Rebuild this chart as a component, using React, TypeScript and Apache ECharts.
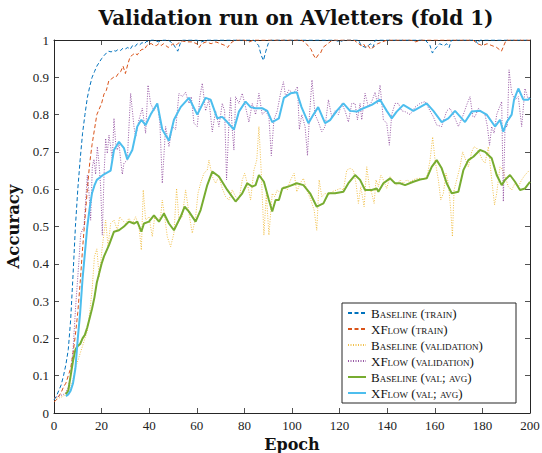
import React, { useEffect, useRef } from "react";
import * as echarts from "echarts";

const seriesNames = [
  "Baseline (train)",
  "XFlow (train)",
  "Baseline (validation)",
  "XFlow (validation)",
  "Baseline (val; avg)",
  "XFlow (val; avg)",
];

const bTrainX = [0,1,2,3,4,5,6,7,8,9,10,11,12,13,14,15,16,17,18,19,20,21,22,23,24,25,26,27,28,29,30,31,32,33,34,35,36,37,38,39,40,41,42,44,46,48,50,51,52,53,54,60,62,64,84,86,87,88,89,90,91,100,118,120,122,128,129,131,133,134,135,156,158,159,160,162,164,165,166,167,177,178,179,200];
const bTrainY = [0.035,0.045,0.06,0.075,0.1,0.13,0.17,0.25,0.37,0.5,0.6,0.68,0.75,0.8,0.845,0.875,0.9,0.915,0.93,0.94,0.95,0.958,0.965,0.97,0.968,0.972,0.97,0.975,0.972,0.978,0.976,0.98,0.975,0.985,0.982,0.99,0.987,0.993,0.99,0.997,0.995,1,1,0.995,1,1,0.99,0.98,0.97,0.99,1,1,0.995,1,1,0.985,0.96,0.945,0.97,0.99,1,1,1,0.995,1,1,0.985,0.98,0.99,0.98,1,1,0.985,0.965,0.975,0.99,0.985,0.99,0.98,1,1,0.99,1,1];

const xTrainX = [0,1,2,3,4,5,6,7,8,9,10,11,12,13,14,15,16,17,18,19,20,21,22,23,24,25,26,27,28,29,30,31,32,33,34,35,36,37,38,39,40,41,42,43,44,45,46,47,48,49,50,51,52,53,54,56,58,60,61,62,64,66,68,70,72,73,74,76,80,82,84,104,106,108,109,110,111,112,113,115,117,126,128,129,130,131,132,133,134,136,138,140,150,152,154,176,178,180,182,184,186,188,189,190,200];
const xTrainY = [0.03,0.035,0.045,0.055,0.07,0.08,0.1,0.12,0.16,0.21,0.27,0.35,0.44,0.52,0.6,0.67,0.72,0.76,0.8,0.815,0.83,0.855,0.865,0.89,0.895,0.9,0.9,0.91,0.915,0.93,0.91,0.935,0.955,0.96,0.965,0.96,0.97,0.975,0.975,0.985,0.99,0.99,0.985,0.985,0.99,0.985,0.99,0.985,0.98,0.985,0.99,0.985,0.99,0.995,0.997,0.995,0.995,0.99,0.98,0.99,0.995,0.99,0.995,0.99,0.985,0.98,0.99,1,1,0.995,1,1,0.99,0.975,0.96,0.95,0.96,0.965,0.98,0.99,1,1,0.99,0.985,0.99,0.98,0.985,0.975,0.98,0.99,0.995,1,1,0.995,1,1,0.99,0.985,0.99,0.985,0.98,0.97,0.985,1,1];

const bValX = [0,2,4,6,7,8,9,10,11,12,13,14,15,16,17,18,19,20.3,21.7,22.7,23.8,25.2,26.6,27.6,28.7,30.1,31.5,32.9,34.3,35.7,36.7,37.5,38.5,39.9,41.3,42.3,43.4,44.8,45.5,46.5,47.6,49,50.4,51.5,52.5,53.9,55.3,56.7,58.1,59.5,60.5,61.6,63,64.4,65.1,66.5,67.9,69.3,70.7,72.1,73.5,74.9,76.3,77.7,79.1,80.1,81.2,82.6,84,85.2,86.1,87.1,88.2,89.2,90.3,91.7,92.7,93.8,95.2,96.6,98,99.4,100.9,102,103.4,104.8,106.2,107.9,109.3,110.4,111.4,112.5,113.9,115.3,116.7,118.8,120.2,121.6,123,124.4,125.8,126.9,127.9,128.9,130.3,131.4,132.5,133.5,134.5,135.3,136.3,137.3,138.4,139.8,141.2,142.6,144,145.4,146.8,148.2,149.6,151,152.4,153.8,155.2,156.9,158,159.1,160.1,161.5,162.5,163.6,164.7,165.7,166.7,167.4,168.1,169.2,170.6,171.7,173,174.1,175.5,176.5,177.6,178.8,180,181.1,182.5,183.5,184.4,185.1,186,187.4,188.6,189.5,190.9,192.3,193.7,195.1,196.5,197.9,199.8];
const bValY = [0.04,0.04,0.045,0.06,0.07,0.09,0.12,0.14,0.16,0.18,0.2,0.22,0.27,0.33,0.42,0.44,0.365,0.446,0.517,0.446,0.508,0.517,0.49,0.526,0.517,0.508,0.522,0.508,0.526,0.5,0.437,0.598,0.517,0.526,0.473,0.526,0.517,0.526,0.571,0.526,0.473,0.446,0.482,0.602,0.517,0.526,0.598,0.535,0.482,0.526,0.589,0.616,0.643,0.651,0.678,0.634,0.616,0.634,0.602,0.58,0.571,0.598,0.58,0.571,0.625,0.643,0.616,0.571,0.651,0.678,0.768,0.643,0.477,0.589,0.477,0.589,0.58,0.598,0.589,0.607,0.598,0.625,0.643,0.593,0.616,0.629,0.598,0.571,0.544,0.49,0.625,0.58,0.589,0.584,0.593,0.598,0.602,0.598,0.651,0.656,0.651,0.616,0.562,0.607,0.553,0.66,0.607,0.589,0.562,0.625,0.607,0.638,0.625,0.602,0.634,0.62,0.611,0.625,0.616,0.625,0.62,0.625,0.629,0.629,0.625,0.638,0.678,0.74,0.678,0.625,0.571,0.589,0.643,0.616,0.544,0.473,0.598,0.625,0.66,0.7,0.678,0.66,0.7,0.714,0.71,0.696,0.678,0.67,0.714,0.651,0.598,0.558,0.589,0.66,0.651,0.634,0.607,0.598,0.616,0.607,0.625,0.638,0.651];

const xValX = [0,2,4,5,6,7,8,9.1,10.5,11.2,12.6,14,14.7,15.4,16.1,16.8,17.5,18.2,18.9,19.6,20.3,21,21.7,22.4,23.1,23.8,24.5,25.2,25.9,26.6,27.3,28,28.7,29.4,30.8,32.2,33.6,34.3,35.7,37.1,38.5,39.5,40.6,42,43.4,44.5,45.5,46.9,48.3,49.7,51.1,52.5,53.9,55.3,56.7,57.7,58.8,60.2,61.3,62.3,63.7,65.1,66.5,67.9,69.3,70.7,71.7,72.5,73.5,74.2,74.9,75.6,76.3,77.7,79.1,80.5,81.9,83.3,84.7,86.1,87.5,88.9,90.3,91.3,92.4,93.8,95.2,96.4,97.3,98.7,100.6,102.3,103.1,104.1,105.5,106.5,107.3,108.4,109.7,111.1,112.5,113.9,115.3,116.7,118.1,119.5,120.9,122.3,123.7,125.1,126.5,127.5,128.6,129.3,130.7,132.1,133.5,134.9,135.9,137,138.4,139.8,140.9,141.9,143.3,144.7,146.1,147.5,149.6,151.7,153.8,155.9,158,159.4,160.8,162.9,165,166.4,168.5,169.9,172,173.4,174.8,176,176.9,178.3,179.7,181.1,182.1,183,183.9,184.9,186,187.2,188.1,188.8,189.5,190.5,191.2,192.3,193.7,195.1,196.5,197.9,199.3,200];
const xValY = [0.04,0.045,0.05,0.055,0.07,0.1,0.17,0.285,0.41,0.48,0.5,0.638,0.59,0.517,0.66,0.68,0.64,0.714,0.67,0.607,0.477,0.634,0.736,0.696,0.745,0.714,0.678,0.79,0.723,0.705,0.723,0.678,0.64,0.67,0.678,0.857,0.768,0.74,0.786,0.817,0.75,0.879,0.83,0.81,0.83,0.777,0.616,0.768,0.714,0.768,0.76,0.857,0.848,0.86,0.83,0.848,0.777,0.768,0.848,0.884,0.81,0.84,0.754,0.81,0.768,0.83,0.81,0.625,0.777,0.845,0.76,0.705,0.848,0.83,0.857,0.82,0.78,0.83,0.8,0.857,0.8,0.81,0.794,0.69,0.786,0.81,0.857,0.888,0.848,0.866,0.857,0.875,0.76,0.8,0.768,0.69,0.794,0.893,0.8,0.78,0.754,0.768,0.84,0.794,0.81,0.8,0.83,0.81,0.78,0.83,0.83,0.786,0.83,0.786,0.857,0.82,0.835,0.86,0.83,0.879,0.786,0.777,0.718,0.8,0.83,0.83,0.81,0.808,0.8,0.82,0.83,0.835,0.81,0.794,0.772,0.768,0.81,0.817,0.79,0.768,0.8,0.826,0.848,0.794,0.794,0.817,0.808,0.8,0.768,0.718,0.768,0.75,0.8,0.82,0.835,0.567,0.768,0.768,0.92,0.857,0.84,0.848,0.768,0.87,0.84,0.85];

const bAvgX = [5,6,7,8,9,10,11,12,13,14,15,16,17,18,19,20,21,23.1,25.2,27.3,29.4,31.5,33.6,35,36.7,37.8,39.9,42,44.1,46.2,48.3,50.4,53.2,54.9,56.7,59.5,61.6,64.4,66.5,69.3,72.8,76.3,79.1,81.2,83.3,84.7,86.1,88.2,90.3,91.7,93.1,94.5,95.9,99.2,102,104.8,107.6,110.4,113.2,115.3,118.1,121.6,123.7,126.5,128.6,130.7,133.5,135.6,136.3,138.4,141.2,143.3,145.4,147.5,151,153.8,156.6,158.7,160.8,162.9,165,167.1,169.9,172,174.1,176.2,179,181.1,183.9,186,188.1,189.5,191.6,193.7,195.8,197.9,200];
const bAvgY = [0.05,0.06,0.1,0.14,0.17,0.18,0.185,0.2,0.21,0.23,0.255,0.28,0.31,0.35,0.375,0.4,0.42,0.45,0.486,0.49,0.5,0.513,0.508,0.513,0.486,0.508,0.513,0.53,0.513,0.535,0.508,0.49,0.526,0.553,0.54,0.513,0.544,0.611,0.647,0.634,0.598,0.567,0.589,0.616,0.607,0.611,0.638,0.62,0.571,0.54,0.571,0.571,0.602,0.609,0.616,0.611,0.589,0.553,0.562,0.589,0.589,0.593,0.616,0.638,0.625,0.598,0.598,0.602,0.593,0.616,0.629,0.616,0.616,0.611,0.62,0.626,0.629,0.66,0.678,0.656,0.616,0.589,0.593,0.651,0.678,0.687,0.705,0.7,0.683,0.638,0.611,0.625,0.638,0.62,0.598,0.602,0.62];

const xAvgX = [5,6,7,8,9,10,11,12,13,14,15,16,17,18,19,21,23.8,25.2,27.3,29.4,30.8,32.9,35,36.7,38.5,40.6,43.4,45.5,48.3,50.4,53.2,56.7,60.2,63.7,65.8,68.6,70.7,72.8,75.6,77.7,80.5,82.6,84.7,87.5,89.6,91.7,94.5,96.6,99.4,102,104,106.9,109,111,113.9,116,118.8,121.6,124.4,127.2,130,133.5,137,139.8,141.9,144,146.8,151,153.8,156.6,159.4,162.9,165.7,168.5,172.7,175.5,179,181.8,185.3,187.4,188.8,190.2,192.3,193.3,195.1,197.2,199.3,200];
const xAvgY = [0.045,0.05,0.06,0.08,0.12,0.2,0.27,0.36,0.43,0.5,0.55,0.59,0.61,0.625,0.63,0.64,0.65,0.705,0.727,0.71,0.68,0.705,0.768,0.786,0.772,0.8,0.83,0.76,0.73,0.786,0.82,0.845,0.8,0.845,0.84,0.79,0.794,0.78,0.76,0.808,0.835,0.82,0.817,0.817,0.81,0.78,0.79,0.845,0.857,0.86,0.82,0.777,0.8,0.82,0.777,0.785,0.81,0.83,0.81,0.808,0.817,0.826,0.84,0.81,0.79,0.808,0.826,0.81,0.82,0.83,0.81,0.78,0.79,0.81,0.78,0.808,0.81,0.8,0.768,0.786,0.754,0.78,0.8,0.84,0.87,0.84,0.84,0.845];

const seriesX = [bTrainX, xTrainX, bValX, xValX, bAvgX, xAvgX];
const seriesY = [bTrainY, xTrainY, bValY, xValY, bAvgY, xAvgY];
const seriesColors = ["#0072BD", "#D95319", "#EDB120", "#7E2F8E", "#77AC30", "#4DBEEE"];

const SERIF = "'Liberation Serif', serif";
const WIDE_SERIF = "'DejaVu Serif', serif";
const AXIS_COLOR = "#262626";

export default function App() {
  const ref = useRef<HTMLDivElement>(null);
  useEffect(() => {
    if (!ref.current) return;
    const chart = echarts.init(ref.current, null, { renderer: "svg" });
    const lineStyles: any[] = [
      { width: 1, type: [4, 2.5] },
      { width: 1, type: [4, 2.5] },
      { width: 1, type: [1, 1.5], opacity: 0.8 },
      { width: 1, type: [1, 1.5], opacity: 0.8 },
      { width: 2 },
      { width: 2 },
    ];
    const series = seriesNames.map((name, i) => ({
      name,
      type: "line",
      symbol: "none",
      showSymbol: false,
      color: seriesColors[i],
      lineStyle: { color: seriesColors[i], ...lineStyles[i] },
      data: seriesX[i].map((x, j) => [x, seriesY[i][j]]),
      z: 2 + i * 0.1,
    }));
    const tickCommon = { show: true, inside: true, length: 5, lineStyle: { color: AXIS_COLOR, width: 0.8 } };
    const lineCommon = { show: true, onZero: false, lineStyle: { color: AXIS_COLOR, width: 1 } };
    chart.setOption({
      animation: false,
      backgroundColor: "#ffffff",
      title: {
        text: "Validation run on AVletters (fold 1)",
        left: 291,
        top: 3,
        textAlign: "center",
        textStyle: { fontFamily: WIDE_SERIF, fontWeight: "bold", fontSize: 20, color: "#111" },
      },
      grid: { left: 54, right: 12, top: 40, bottom: 40, containLabel: false, outerBoundsMode: "none" },
      xAxis: [
        {
          type: "value",
          min: 0,
          max: 200,
          interval: 20,
          position: "bottom",
          axisLine: lineCommon,
          axisTick: tickCommon,
          splitLine: { show: false },
          axisLabel: { color: "#222", fontFamily: SERIF, fontSize: 13, margin: 6 },
          name: "Epoch",
          nameLocation: "middle",
          nameGap: 16,
          nameTextStyle: { fontFamily: WIDE_SERIF, fontWeight: "bold", fontSize: 16, color: "#111" },
        },
        {
          type: "value",
          min: 0,
          max: 200,
          interval: 20,
          position: "top",
          axisLine: lineCommon,
          axisTick: tickCommon,
          splitLine: { show: false },
          axisLabel: { show: false },
        },
      ],
      yAxis: [
        {
          type: "value",
          min: 0,
          max: 1,
          interval: 0.1,
          position: "left",
          axisLine: lineCommon,
          axisTick: tickCommon,
          splitLine: { show: false },
          axisLabel: {
            color: "#222",
            fontFamily: SERIF,
            fontSize: 13,
            margin: 5,
            formatter: (v: number) => String(+v.toFixed(1)),
          },
          name: "Accuracy",
          nameLocation: "middle",
          nameGap: 29,
          nameTextStyle: { fontFamily: WIDE_SERIF, fontWeight: "bold", fontSize: 16.5, color: "#111" },
        },
        {
          type: "value",
          min: 0,
          max: 1,
          interval: 0.1,
          position: "right",
          axisLine: lineCommon,
          axisTick: tickCommon,
          splitLine: { show: false },
          axisLabel: { show: false },
        },
      ],
      graphic: [
        {
          type: "rect",
          z: 5,
          shape: { x: 342, y: 303, width: 174, height: 100 },
          style: { fill: "#ffffff", stroke: AXIS_COLOR, lineWidth: 1 },
        },
      ],
      legend: {
        z: 10,
        orient: "vertical",
        left: 347,
        top: 303,
        padding: 0,
        itemWidth: 18,
        itemHeight: 14,
        itemGap: -4,
        data: seriesNames,
        itemStyle: { opacity: 0, color: "transparent", borderWidth: 0 },
        textStyle: {
          fontFamily: "Liberation Serif; font-variant: small-caps",
          fontSize: 13,
          color: "#111",
        },
      },
      series,
    });
    return () => chart.dispose();
  }, []);
  return <div ref={ref} style={{ position: "fixed", left: 0, top: 0, width: 542, height: 453 }} />;
}
